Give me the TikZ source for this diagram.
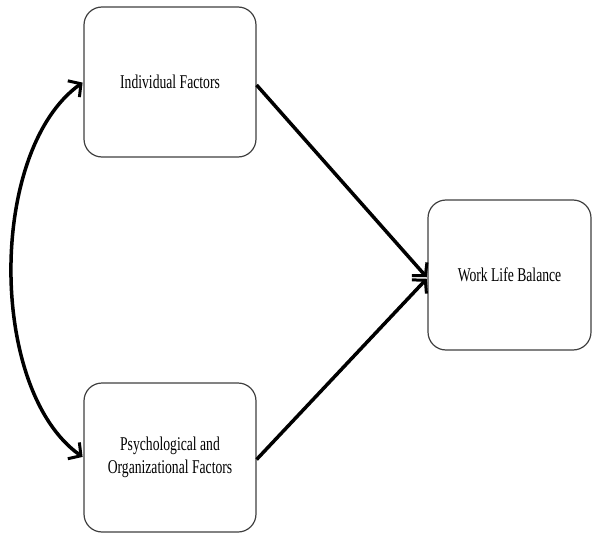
\documentclass[tikz,border=0pt]{standalone}
\usepackage{fontspec}
\setmainfont[FakeStretch=0.7]{Liberation Serif}
\usetikzlibrary{arrows.meta}
\begin{document}
\begin{tikzpicture}[x=1pt, y=-1pt,
    box/.style={draw=black!75, line width=1.2pt, rounded corners=18pt, minimum width=172pt, minimum height=150pt, align=center, fill=white, font=\fontsize{19.5}{23}\selectfont},
    arrow/.style={->, line width=3.5pt, >={Straight Barb[length=9pt, width=20pt, line width=3pt]}}
]
    \useasboundingbox (0,0) rectangle (592,535);

    % Factors
    \node[box] (ind) at (170,82) {Individual Factors};
    \node[box, minimum height=149pt] (psy) at (170,457.5) {Psychological and\\Organizational Factors};

    % Outcome
    \node[box, minimum width=163pt] (wlb) at (509.5,275) {Work Life Balance};

    % Arrows
    \draw[arrow, shorten >=1pt] (ind.east) ++(0,3) -- ([yshift=-3pt]wlb.west);
    \draw[arrow, shorten >=1pt] (psy.east) ++(0,2) -- ([yshift=-3pt]wlb.west);
    \draw[arrow, <->, shorten >=1pt, shorten <=1pt]
        (ind.west) .. controls (-12,150) and (-12,390) .. (psy.west);
\end{tikzpicture}
\end{document}
